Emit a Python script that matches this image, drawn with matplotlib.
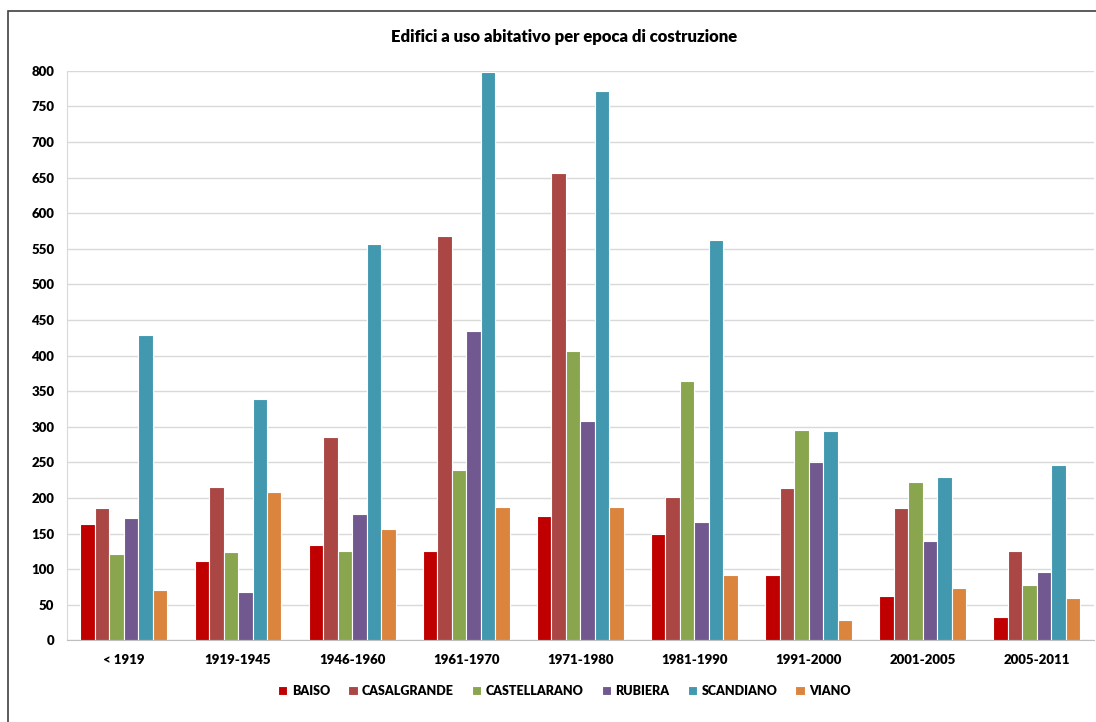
import numpy as np
import matplotlib
matplotlib.use("Agg")
import matplotlib.pyplot as plt
from matplotlib.patches import Rectangle

categories = ['< 1919', '1919-1945', '1946-1960', '1961-1970', '1971-1980',
              '1981-1990', '1991-2000', '2001-2005', '2005-2011']
baiso = [164, 111, 134, 126, 175, 149, 92, 63, 33]
casalgrande = [186, 215, 285, 568, 657, 201, 214, 186, 125]
castellarano = [122, 124, 125, 240, 407, 365, 296, 223, 78]
rubiera = [172, 68, 178, 435, 308, 166, 251, 140, 96]
scandiano = [429, 339, 557, 798, 772, 562, 294, 229, 247]
viano = [71, 209, 157, 188, 187, 92, 29, 73, 59]

series = [('BAISO', baiso, '#C00000'),
          ('CASALGRANDE', casalgrande, '#AA4643'),
          ('CASTELLARANO', castellarano, '#89A54E'),
          ('RUBIERA', rubiera, '#71588F'),
          ('SCANDIANO', scandiano, '#4198AF'),
          ('VIANO', viano, '#DB843D')]

plt.rcParams['font.family'] = ['Lato', 'DejaVu Sans']
plt.rcParams['font.weight'] = 'heavy'

fig = plt.figure(figsize=(10.96, 7.22), dpi=100)
ax = fig.add_axes([0.061, 0.113, 0.937, 0.789])

x = np.arange(len(categories))
w = 0.127
for i, (name, vals, col) in enumerate(series):
    ax.bar(x + (i - 2.5) * w, vals, width=w, color=col, edgecolor='white',
           linewidth=0.8, label=name, zorder=3)

ax.set_xlim(-0.5, len(categories) - 0.5)
ax.set_ylim(0, 800)
ax.set_yticks(np.arange(0, 801, 50))
ax.set_xticks(x)
ax.set_xticklabels(categories, fontsize=9.5, fontweight='heavy')
ax.tick_params(axis='y', labelsize=9.5, length=0, pad=9)
ax.tick_params(axis='x', length=0, pad=10)
for lab in ax.get_yticklabels():
    lab.set_fontweight('heavy')
ax.grid(axis='y', color='#D9D9D9', linewidth=1, zorder=0)
for s in ['top', 'right']:
    ax.spines[s].set_visible(False)
ax.spines['left'].set_color('#D9D9D9')
ax.spines['bottom'].set_color('#BFBFBF')

fig.text(0.515, 0.949, 'Edifici a uso abitativo per epoca di costruzione',
         ha='center', va='center', fontsize=12, fontweight='heavy')

fig.legend(loc='center', bbox_to_anchor=(0.515, 0.043), ncol=6, frameon=False,
           prop={'size': 9, 'weight': 'heavy'}, handlelength=0.75, handleheight=0.75,
           columnspacing=1.45, handletextpad=0.35)

fig.patches.append(Rectangle((0.0075, -0.05), 1.2, 1.035, transform=fig.transFigure,
                             fill=False, edgecolor='#404040', linewidth=1.2))

fig.savefig('out.png', dpi=100)
